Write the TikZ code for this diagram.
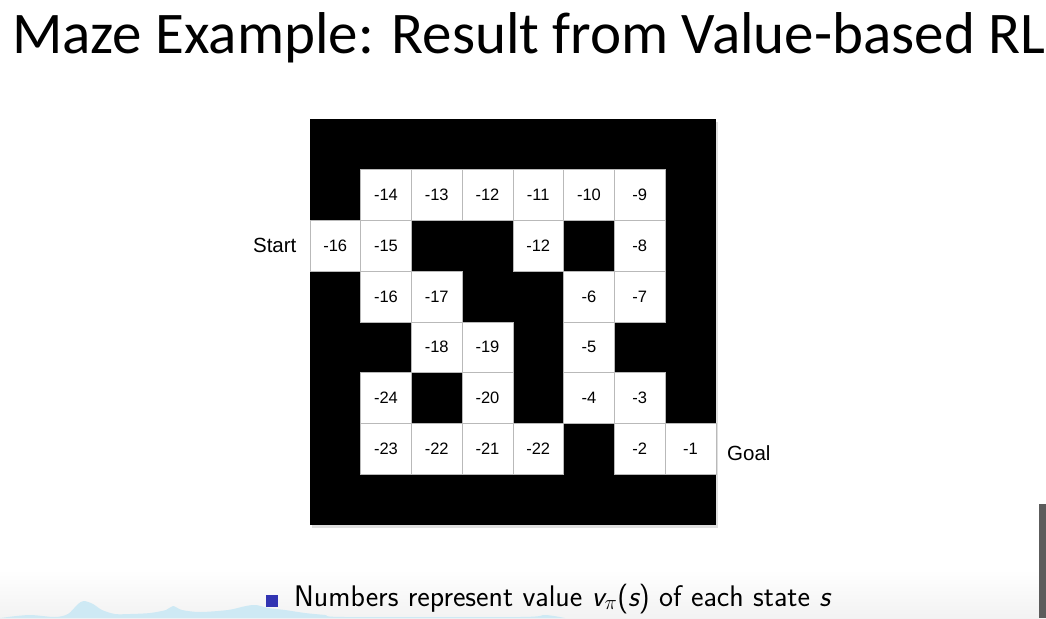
\documentclass[tikz,border=0pt]{standalone}
\usepackage{fontspec}
\newfontfamily\titlefont{Carlito}
\newfontfamily\cellfont{Liberation Sans}
\usetikzlibrary{positioning,shadows}
\definecolor{bulletblue}{RGB}{50,52,178}
\definecolor{hillblue}{RGB}{206,233,244}
\definecolor{panelgray}{RGB}{92,92,92}

\begin{document}
\begin{tikzpicture}%
  [x=1pt,y=-1pt,
   maze/.style=
    {fill=black,minimum size=406pt,inner sep=0pt,
     drop shadow={opacity=0.25,shadow xshift=1.5pt,shadow yshift=-2.5pt}},
   cell/.style=
    {draw=gray!55,fill=white,minimum size=50.75pt,inner sep=0pt,
     font=\cellfont\fontsize{16.5}{20}\selectfont},
   side/.style=
    {inner sep=0pt,font=\cellfont\fontsize{20.5}{24}\selectfont},
   hill/.style={fill=hillblue}
  ]
  \useasboundingbox (0,0) rectangle (1046,618);
  \shade[top color=white,bottom color=gray!10] (0,570) rectangle (1046,618);
  % hills at the foot of the slide
  \fill[hill] (0,618) -- plot[smooth] coordinates
    {(8,617) (30,615) (55,617) (68,614) (78,604) (84,601) (93,604)
     (102,610) (115,614) (130,614) (150,613) (166,610) (173,606)
     (182,610) (200,612) (228,610) (246,606) (256,605) (268,608)
     (285,610) (305,613) (325,615) (345,617) (520,617) (545,615)
     (565,618)} -- cycle;
  \fill[panelgray] (1039,504) rectangle (1046,618);
  \node[anchor=base west,inner sep=0pt,
        font=\titlefont\fontsize{59}{70}\selectfont] (title) at (12,54)
    {Maze Example: Result from Value-based RL};
  \node[maze] (maze) at (513,322) {};
  \begin{scope}[shift={(maze.north west)},x=50.75pt,y=-50.75pt]
    \node[cell] (r1c1) at (1.5,1.5) {-14};
    \node[cell] (r1c2) at (2.5,1.5) {-13};
    \node[cell] (r1c3) at (3.5,1.5) {-12};
    \node[cell] (r1c4) at (4.5,1.5) {-11};
    \node[cell] (r1c5) at (5.5,1.5) {-10};
    \node[cell] (r1c6) at (6.5,1.5) {-9};
    \node[cell] (r2c0) at (0.5,2.5) {-16};
    \node[cell] (r2c1) at (1.5,2.5) {-15};
    \node[cell] (r2c4) at (4.5,2.5) {-12};
    \node[cell] (r2c6) at (6.5,2.5) {-8};
    \node[cell] (r3c1) at (1.5,3.5) {-16};
    \node[cell] (r3c2) at (2.5,3.5) {-17};
    \node[cell] (r3c5) at (5.5,3.5) {-6};
    \node[cell] (r3c6) at (6.5,3.5) {-7};
    \node[cell] (r4c2) at (2.5,4.5) {-18};
    \node[cell] (r4c3) at (3.5,4.5) {-19};
    \node[cell] (r4c5) at (5.5,4.5) {-5};
    \node[cell] (r5c1) at (1.5,5.5) {-24};
    \node[cell] (r5c3) at (3.5,5.5) {-20};
    \node[cell] (r5c5) at (5.5,5.5) {-4};
    \node[cell] (r5c6) at (6.5,5.5) {-3};
    \node[cell] (r6c1) at (1.5,6.5) {-23};
    \node[cell] (r6c2) at (2.5,6.5) {-22};
    \node[cell] (r6c3) at (3.5,6.5) {-21};
    \node[cell] (r6c4) at (4.5,6.5) {-22};
    \node[cell] (r6c6) at (6.5,6.5) {-2};
    \node[cell] (r6c7) at (7.5,6.5) {-1};
  \end{scope}
  \node[side,left=13pt of r2c0] (start) {Start};
  \node[side,right=11pt of r6c7,yshift=-4pt] (goal) {Goal};
  \node[fill=bulletblue,minimum size=12pt,inner sep=0pt] (bullet) at (272,601) {};
  \node[anchor=base west,inner sep=0pt,font=\sffamily\fontsize{29.8}{34}\selectfont]
    (note) at (294,606)
    {Numbers represent value {\slshape v}$_{\pi}$({\slshape s}) of each state {\slshape s}};
\end{tikzpicture}
\end{document}
